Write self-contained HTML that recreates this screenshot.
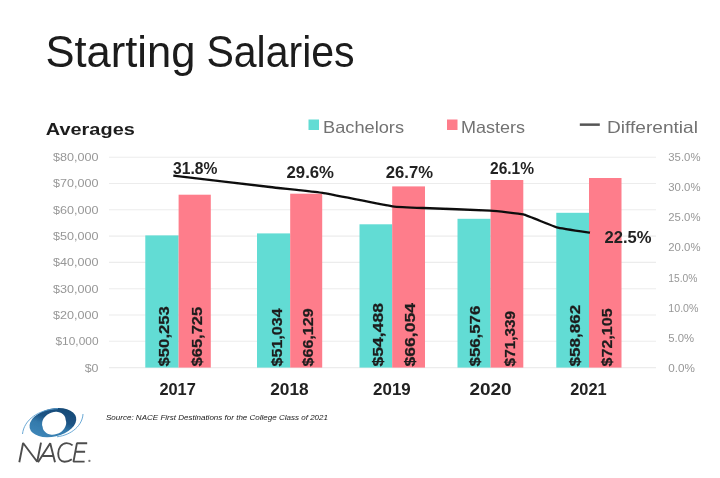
<!DOCTYPE html>
<html><head><meta charset="utf-8"><title>Starting Salaries</title>
<style>
html,body{margin:0;padding:0;background:#fff;}
body{width:720px;height:478px;overflow:hidden;font-family:"Liberation Sans",sans-serif;}
svg{display:block;}
text{font-family:"Liberation Sans",sans-serif;}
</style></head><body>
<svg width="720" height="478" viewBox="0 0 720 478">
<defs>
<filter id="bl" x="-5%" y="-5%" width="110%" height="110%"><feGaussianBlur stdDeviation="0.6"/></filter>
<linearGradient id="lg" x1="0" y1="1" x2="1" y2="0">
<stop offset="0" stop-color="#438dbf"/><stop offset="0.42" stop-color="#3379ab"/><stop offset="0.58" stop-color="#1c5384"/><stop offset="1" stop-color="#154670"/>
</linearGradient>
</defs>
<rect width="720" height="478" fill="#ffffff"/>
<g filter="url(#bl)">

<text x="45.4" y="67.3" font-size="44" fill="#1a1a1a" textLength="150" lengthAdjust="spacingAndGlyphs">Starting</text>
<text x="206.4" y="67.3" font-size="44" fill="#1a1a1a" textLength="148.2" lengthAdjust="spacingAndGlyphs">Salaries</text>
<text x="45.8" y="135.2" font-size="17" font-weight="bold" fill="#1c1c1c" textLength="89" lengthAdjust="spacingAndGlyphs">Averages</text>
<rect x="308.5" y="119.5" width="10.5" height="10.5" fill="#62dcd4"/>
<text x="323" y="132.6" font-size="16.5" fill="#727272" textLength="81" lengthAdjust="spacingAndGlyphs">Bachelors</text>
<rect x="447" y="119.5" width="10.5" height="10.5" fill="#fe7d8b"/>
<text x="461" y="132.6" font-size="16.5" fill="#727272" textLength="64" lengthAdjust="spacingAndGlyphs">Masters</text>
<rect x="579.8" y="123.4" width="20" height="2.5" fill="#555"/>
<text x="607" y="132.6" font-size="16.5" fill="#727272" textLength="91" lengthAdjust="spacingAndGlyphs">Differential</text>
<line x1="109" x2="656" y1="367.6" y2="367.6" stroke="#ececec" stroke-width="1.1"/>
<text x="84.7" y="371.5" font-size="10.2" fill="#979797" textLength="13.8" lengthAdjust="spacingAndGlyphs">$0</text>
<line x1="109" x2="656" y1="341.3" y2="341.3" stroke="#ececec" stroke-width="1.1"/>
<text x="55.5" y="345.2" font-size="10.2" fill="#979797" textLength="43" lengthAdjust="spacingAndGlyphs">$10,000</text>
<line x1="109" x2="656" y1="315.0" y2="315.0" stroke="#ececec" stroke-width="1.1"/>
<text x="53.0" y="318.9" font-size="10.2" fill="#979797" textLength="45.5" lengthAdjust="spacingAndGlyphs">$20,000</text>
<line x1="109" x2="656" y1="288.7" y2="288.7" stroke="#ececec" stroke-width="1.1"/>
<text x="53.0" y="292.6" font-size="10.2" fill="#979797" textLength="45.5" lengthAdjust="spacingAndGlyphs">$30,000</text>
<line x1="109" x2="656" y1="262.4" y2="262.4" stroke="#ececec" stroke-width="1.1"/>
<text x="53.0" y="266.3" font-size="10.2" fill="#979797" textLength="45.5" lengthAdjust="spacingAndGlyphs">$40,000</text>
<line x1="109" x2="656" y1="236.1" y2="236.1" stroke="#ececec" stroke-width="1.1"/>
<text x="53.0" y="240.0" font-size="10.2" fill="#979797" textLength="45.5" lengthAdjust="spacingAndGlyphs">$50,000</text>
<line x1="109" x2="656" y1="209.8" y2="209.8" stroke="#ececec" stroke-width="1.1"/>
<text x="53.0" y="213.7" font-size="10.2" fill="#979797" textLength="45.5" lengthAdjust="spacingAndGlyphs">$60,000</text>
<line x1="109" x2="656" y1="183.5" y2="183.5" stroke="#ececec" stroke-width="1.1"/>
<text x="53.0" y="187.4" font-size="10.2" fill="#979797" textLength="45.5" lengthAdjust="spacingAndGlyphs">$70,000</text>
<line x1="109" x2="656" y1="157.2" y2="157.2" stroke="#ececec" stroke-width="1.1"/>
<text x="53.0" y="161.1" font-size="10.2" fill="#979797" textLength="45.5" lengthAdjust="spacingAndGlyphs">$80,000</text>
<text x="668.3" y="371.8" font-size="10.2" fill="#979797" textLength="26.7" lengthAdjust="spacingAndGlyphs">0.0%</text>
<text x="668.3" y="341.7" font-size="10.2" fill="#979797" textLength="25.9" lengthAdjust="spacingAndGlyphs">5.0%</text>
<text x="668.3" y="311.6" font-size="10.2" fill="#979797" textLength="30.2" lengthAdjust="spacingAndGlyphs">10.0%</text>
<text x="668.3" y="281.5" font-size="10.2" fill="#979797" textLength="29.2" lengthAdjust="spacingAndGlyphs">15.0%</text>
<text x="668.3" y="251.4" font-size="10.2" fill="#979797" textLength="32.2" lengthAdjust="spacingAndGlyphs">20.0%</text>
<text x="668.3" y="221.3" font-size="10.2" fill="#979797" textLength="32.2" lengthAdjust="spacingAndGlyphs">25.0%</text>
<text x="668.3" y="191.2" font-size="10.2" fill="#979797" textLength="32.2" lengthAdjust="spacingAndGlyphs">30.0%</text>
<text x="668.3" y="161.1" font-size="10.2" fill="#979797" textLength="32.2" lengthAdjust="spacingAndGlyphs">35.0%</text>
<rect x="145.3" y="235.4" width="33.3" height="132.2" fill="#62dcd4"/>
<rect x="178.6" y="194.7" width="32.2" height="172.9" fill="#fe7d8b"/>
<text transform="translate(169.0,366.4) rotate(-90)" font-size="14.7" font-weight="bold" fill="#1e1e1e" stroke="#1e1e1e" stroke-width="0.25" textLength="60.2" lengthAdjust="spacingAndGlyphs">$50,253</text>
<text transform="translate(202.4,366.4) rotate(-90)" font-size="14.7" font-weight="bold" fill="#1e1e1e" stroke="#1e1e1e" stroke-width="0.25" textLength="59.6" lengthAdjust="spacingAndGlyphs">$65,725</text>
<text x="159.4" y="395" font-size="16.3" font-weight="bold" fill="#222" textLength="36.4" lengthAdjust="spacingAndGlyphs">2017</text>
<rect x="257.0" y="233.4" width="33.2" height="134.2" fill="#62dcd4"/>
<rect x="290.2" y="193.7" width="32.0" height="173.9" fill="#fe7d8b"/>
<text transform="translate(282.4,366.4) rotate(-90)" font-size="14.7" font-weight="bold" fill="#1e1e1e" stroke="#1e1e1e" stroke-width="0.25" textLength="58" lengthAdjust="spacingAndGlyphs">$51,034</text>
<text transform="translate(313.0,366.4) rotate(-90)" font-size="14.7" font-weight="bold" fill="#1e1e1e" stroke="#1e1e1e" stroke-width="0.25" textLength="58" lengthAdjust="spacingAndGlyphs">$66,129</text>
<text x="270.2" y="395" font-size="16.3" font-weight="bold" fill="#222" textLength="38.5" lengthAdjust="spacingAndGlyphs">2018</text>
<rect x="359.5" y="224.3" width="32.7" height="143.3" fill="#62dcd4"/>
<rect x="392.2" y="186.4" width="32.8" height="181.2" fill="#fe7d8b"/>
<text transform="translate(382.9,366.4) rotate(-90)" font-size="14.7" font-weight="bold" fill="#1e1e1e" stroke="#1e1e1e" stroke-width="0.25" textLength="63.3" lengthAdjust="spacingAndGlyphs">$54,488</text>
<text transform="translate(415.2,366.4) rotate(-90)" font-size="14.7" font-weight="bold" fill="#1e1e1e" stroke="#1e1e1e" stroke-width="0.25" textLength="63.3" lengthAdjust="spacingAndGlyphs">$66,054</text>
<text x="373.1" y="395" font-size="16.3" font-weight="bold" fill="#222" textLength="37.7" lengthAdjust="spacingAndGlyphs">2019</text>
<rect x="457.5" y="218.8" width="33.1" height="148.8" fill="#62dcd4"/>
<rect x="490.6" y="180.0" width="32.7" height="187.6" fill="#fe7d8b"/>
<text transform="translate(479.9,366.4) rotate(-90)" font-size="14.7" font-weight="bold" fill="#1e1e1e" stroke="#1e1e1e" stroke-width="0.25" textLength="60.7" lengthAdjust="spacingAndGlyphs">$56,576</text>
<text transform="translate(514.5,366.4) rotate(-90)" font-size="14.7" font-weight="bold" fill="#1e1e1e" stroke="#1e1e1e" stroke-width="0.25" textLength="55.5" lengthAdjust="spacingAndGlyphs">$71,339</text>
<text x="469.4" y="395" font-size="16.3" font-weight="bold" fill="#222" textLength="42.2" lengthAdjust="spacingAndGlyphs">2020</text>
<rect x="556.3" y="212.8" width="32.7" height="154.8" fill="#62dcd4"/>
<rect x="589.0" y="178.0" width="32.5" height="189.6" fill="#fe7d8b"/>
<text transform="translate(579.5,366.4) rotate(-90)" font-size="14.7" font-weight="bold" fill="#1e1e1e" stroke="#1e1e1e" stroke-width="0.25" textLength="61.5" lengthAdjust="spacingAndGlyphs">$58,862</text>
<text transform="translate(612.1,366.4) rotate(-90)" font-size="14.7" font-weight="bold" fill="#1e1e1e" stroke="#1e1e1e" stroke-width="0.25" textLength="58" lengthAdjust="spacingAndGlyphs">$72,105</text>
<text x="570.2" y="395" font-size="16.3" font-weight="bold" fill="#222" textLength="36.4" lengthAdjust="spacingAndGlyphs">2021</text>
<path d="M173.3,175.7 C178.7,176.3 261.7,186.0 270.0,187.0 C278.3,188.0 315.7,191.8 322.5,192.9 C329.3,194.0 387.0,205.5 392.6,206.3 C398.2,207.1 417.6,207.8 423.0,208.0 C428.4,208.2 484.4,210.3 490.0,210.7 C495.6,211.1 519.6,213.5 523.3,214.4 C527.0,215.3 553.0,226.3 556.7,227.3 C560.4,228.3 588.1,232.4 590.0,232.7" fill="none" stroke="#111" stroke-width="2.35" stroke-linecap="butt" stroke-linejoin="round"/>
<text x="173" y="174.1" font-size="15.8" font-weight="bold" fill="#222" textLength="44.30000000000001" lengthAdjust="spacingAndGlyphs">31.8%</text>
<text x="286.5" y="177.8" font-size="15.8" font-weight="bold" fill="#222" textLength="47.5" lengthAdjust="spacingAndGlyphs">29.6%</text>
<text x="385.8" y="177.7" font-size="15.8" font-weight="bold" fill="#222" textLength="47.19999999999999" lengthAdjust="spacingAndGlyphs">26.7%</text>
<text x="490" y="173.6" font-size="15.8" font-weight="bold" fill="#222" textLength="44" lengthAdjust="spacingAndGlyphs">26.1%</text>
<text x="604.5" y="243" font-size="15.8" font-weight="bold" fill="#222" textLength="47.0" lengthAdjust="spacingAndGlyphs">22.5%</text>
<text x="106" y="420" font-size="6.3" font-style="italic" fill="#1a1a1a" textLength="222" lengthAdjust="spacingAndGlyphs">Source: NACE First Destinations for the College Class of 2021</text>
<g id="logo">
<g transform="translate(52.8,422.4) rotate(-13)">
<path fill-rule="evenodd" fill="url(#lg)" d="M-23.8,0.3 a23.8,14 0 1,0 47.6,0 a23.8,14 0 1,0 -47.6,0 Z M-10.9,1.9 a12.2,9.7 -12 1,0 24,-1.6 a12.2,9.7 -12 1,0 -24,1.6 Z"/>
</g>
<path d="M22.5,434 C24,420 38,409.5 58,408.6" fill="none" stroke="#5a9fd0" stroke-width="0.9"/>
<path d="M83,414 C82.5,425 72,435 57,436.8" fill="none" stroke="#5a9fd0" stroke-width="0.9"/>
<g fill="none" stroke="#4e4e4e" stroke-width="1.9" stroke-linejoin="bevel">
<path d="M19.3,462.3 L23.1,443 L37.2,461.8 L41.0,442.6"/>
<path d="M38.0,462.3 L50.2,443.2 L55.0,462.3 M42.4,456 L53.5,456"/>
<path d="M72.6,445.4 C70.8,443.8 68.8,443.1 66.6,443.1 C61.6,443.1 58.2,448 58.2,453.6 C58.2,458.5 60.6,461.7 64.6,461.7 C67.4,461.7 69.8,460.8 71.8,459.2"/>
<path d="M87.2,443.3 L76.9,443.3 L73.5,461.6 L84.6,461.6 M75.3,451.8 L85.1,451.8"/>
</g>
<circle cx="89.4" cy="460.9" r="1.15" fill="#777"/>
</g>
</g></svg></body></html>
